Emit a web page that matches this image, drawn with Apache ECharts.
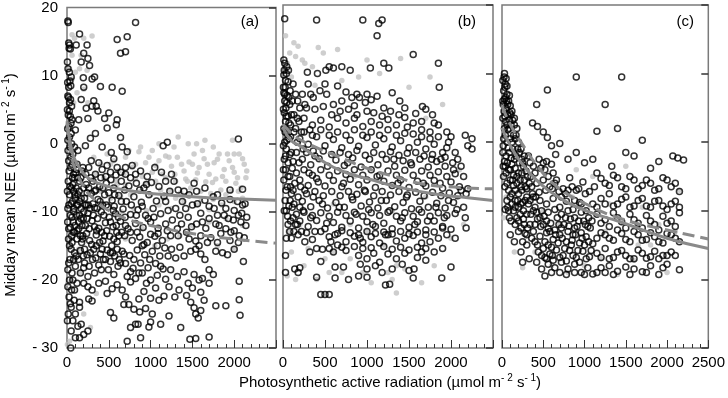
<!DOCTYPE html>
<html>
<head>
<meta charset="utf-8">
<script src="https://cdn.jsdelivr.net/npm/echarts@6/dist/echarts.min.js"></script>
<style>
  html, body { margin: 0; padding: 0; background: #fff; }
  #chart { width: 728px; height: 398px; }
</style>
</head>
<body>
<div id="chart"></div>
<script>
// x: PAR (umol m-2 s-1), y: midday mean NEE (umol m-2 s-1)
var panelLabels = ['(a)', '(b)', '(c)'];

// ---- panel (a) ----
var aGray = [
  [320,-2],[400,-3],[480,-1.5],[560,-2.5],[620,-4],[700,-2],[780,-3.5],[860,-1.2],[940,-2.8],[1020,-4.2],
  [1100,-2.5],[1180,-1.8],[1250,-3.3],[1320,-2],[1400,-4],[1460,-2.7],[1520,-1.5],[1580,-3.5],[1640,-2.2],[1700,-4.5],
  [1760,-2.8],[1820,-1.5],[1880,-3.8],[1940,-2.5],[2000,-4.2],[2060,-1.5],[2120,-3],[2140,-5],[2080,-6.5],[2020,-5.8],
  [1960,-7],[1900,-5.5],[1840,-6.8],[1780,-5.2],[1720,-7.3],[1660,-5.6],[1600,-7],[1540,-5.3],[1480,-6.5],[1420,-5.2],
  [1360,-7.2],[1300,-5.5],[1240,-7],[1180,-5],[1120,-6.8],[1060,-5.5],[1000,-7.5],[940,-5.8],[880,-7],[820,-5.2],
  [760,-7.5],[700,-6],[640,-7.8],[580,-5.5],[520,-8],[460,-6.5],[400,-7],[2100,-8],[2000,-8.5],[1850,-9],
  [1700,-9.7],[1550,-9],[1400,-8.5],[1250,-9.5],[1100,-9],[950,-9.8],[800,-9.5],[650,-10],[1650,0.5],[1450,0],
  [1330,1],[1980,0.5],[60,16],[90,15.5],[170,13],[300,15.8],[240,10.8],[150,11],[100,10.5],[60,9.5],
  [200,8],[80,6],[40,-1],[20,-6],[50,-14],[20,-15],[140,-15.5],[50,-20],[10,-20.5],[30,-29],
  [5,-29.5],[280,-27],[200,-25],[350,-22],[150,-19],[1200,-14],[1500,-12],[1800,-15],[2000,-15.5],[1900,-11],
  [1700,-11.5],[1350,-13.5],[900,-12.5],[700,-14],[500,-16],[1050,-15],[2100,-12]
];
var aGray2 = [
  [350,-4.5],[440,-5],[520,-3],[600,-6],[680,-4.5],[740,-1],[820,-3],[900,-4.8],[980,-2],[1060,-3.2],
  [1140,-4.5],[1220,-2],[1290,-4.5],[1370,-3],[1440,-5.5],[1500,-3],[1560,-4.3],[1620,-1],[1680,-3],[1740,-5.7],
  [1800,-2.3],[1860,-4.8],[1920,-1.5],[1980,-3.5],[2040,-5],[2100,-2.2],[2150,-4],[1020,-1],[1280,-0.5],[1750,-0.5],
  [1550,0],[880,-0.5],[1100,0],[2000,-1.5],[1300,-8],[1600,-8.5],[1900,-7.5],[1150,-8],[1450,-7.5],[1750,-8.2],
  [2050,-7],[60,13],[120,7.5],[250,6],[30,11],[200,15.5]
];
var aOpen = [
  [10,18],[15,17.8],[20,14.8],[30,14.5],[25,14],[40,13.9],[50,9.8],[35,9.2],[45,8.5],[20,8.3],
  [10,7],[30,6],[55,5.5],[15,4.2],[40,4],[60,3.5],[25,2.5],[50,1.5],[10,0.5],[35,-0.5],
  [70,-1.5],[20,-2.5],[45,-3.5],[80,-4.5],[15,-5.5],[55,-6.5],[30,-7.5],[65,-8.5],[10,-9.5],[40,-10.5],
  [75,-11.5],[20,-12.5],[55,-13.5],[30,-15],[90,-16],[20,-17.5],[60,-19],[10,-21],[40,-23.5],[15,-25],
  [70,-26],[100,-28.5],[50,-27.5],
  [150,16.1],[110,14.5],[240,14.5],[200,13.3],[250,12.5],[170,12],[270,11.5],[195,9.7],[330,9.8],[300,9.5],
  [200,8.3],[400,8.4],[170,6.5],[320,6.3],[300,5.5],[230,5.2],[350,5.5],[370,4.8],[500,4.5],[600,15.3],
  [640,13.3],[720,15.7],[700,13.5],[820,17.8],[540,8.3],[660,7.7],[140,3.5],[250,3.7],[450,3.7],[600,3.5],
  [590,2.8],[480,2.3],[340,1.5],[280,0.8],[640,0.9],[220,-0.3],[420,-0.5],[660,-0.5],[720,-1.2],[530,-1.3],
  [1150,-0.3],[1200,0.2],[2050,0.7],
  [120,-3],[180,-4],[260,-3.5],[340,-4.5],[420,-3.8],[520,-4.2],[600,-3.5],[700,-4.5],[780,-3.2],[880,-4],
  [960,-4.8],[1050,-3.5],[1130,-4.2],[150,-5.5],[230,-6],[310,-5.5],[390,-6.3],[470,-5.8],[560,-6.5],[650,-5.5],
  [740,-6.2],[830,-5.8],[920,-6.5],[1010,-5.7],[1100,-6.3],[1180,-5.5],[130,-7.5],[210,-8],[290,-7.3],[370,-8.2],
  [450,-7.5],[540,-8.3],[620,-7.6],[710,-8.5],[800,-7.8],[890,-8.6],[980,-7.5],[1070,-8.4],[1160,-7.7],[170,-9.5],
  [250,-10.2],[330,-9.4],[410,-10],[490,-9.3],[580,-10.3],[670,-9.6],[760,-10.4],[850,-9.7],[940,-10.5],[1030,-9.5],
  [1120,-10.3],[1210,-9.8],[140,-11.5],[220,-12],[300,-11.3],[380,-12.4],[460,-11.6],[550,-12.2],[640,-11.4],[730,-12.5],
  [820,-11.7],[910,-12.3],[1000,-11.5],[1090,-12.4],[1180,-11.8],[190,-13.5],[270,-14.2],[350,-13.4],[430,-14.3],[510,-13.6],
  [600,-14.4],[690,-13.5],[780,-14.2],[870,-13.7],[960,-14.5],[1050,-13.6],[1140,-14.2],[160,-15.7],[240,-16.3],[320,-15.5],
  [400,-16.2],[480,-15.6],[570,-16.5],[660,-15.8],[750,-16.4],[840,-15.6],[930,-16.3],[1020,-15.8],[1110,-16.5],[210,-17.5],
  [380,-17.8],[520,-17.3],[610,-18],[700,-17.6],[790,-18.3],[880,-17.5],[970,-18.2],[1060,-17.6],[1150,-18.4],[200,-18.2],
  [560,-19.2],[720,-19.5],[820,-19.8],[900,-19],[1000,-20],[1080,-19.3],[1180,-19.9],
  [1250,-4.5],[1280,-5.5],[1330,-6.8],[1380,-8.5],[1420,-9.5],[1460,-7.5],[1520,-5.8],[1560,-8.8],[1600,-10.2],[1650,-8.3],
  [1700,-9.2],[1750,-7.8],[1800,-10.5],[1850,-8.7],[1900,-9.5],[1950,-8.2],[2000,-9.8],[2050,-10.5],[2100,-9],[2130,-8.8],
  [2080,-11.5],[2150,-10.8],[1260,-11.2],[1320,-12.5],[1370,-11.8],[1430,-13],[1490,-12.2],[1540,-14.3],[1600,-13.5],[1660,-12.4],
  [1720,-13.8],[1780,-11.8],[1840,-13.2],[1900,-12.5],[1950,-14.2],[2000,-12.8],[2060,-13.5],[2120,-13.8],[2110,-17.3],[1250,-15.5],
  [1300,-16.8],[1350,-15.2],[1400,-16.5],[1480,-15.8],[1540,-15.5],[1600,-16.2],[1650,-17],[1700,-18.5],[1780,-15.8],[1860,-16],
  [1920,-16.3],[2050,-14.5],[1240,-18.5],[1320,-19.5],[1400,-18.8],[1450,-20.5],[1520,-19.2],[1580,-20],[1620,-19.8],[1750,-19.2],
  [120,-20.5],[250,-19.5],[300,-21.5],[380,-20.5],[460,-20.2],[480,-22],[540,-21.3],[600,-20.7],[660,-21.5],[700,-22.5],
  [760,-20.3],[860,-22.8],[920,-21.7],[1000,-22.7],[1060,-21.2],[1100,-23],[1160,-22.4],[1220,-21],[1290,-22.5],[1340,-21.5],
  [1430,-22.3],[1500,-21.2],[1600,-21.8],[1700,-20.5],[1780,-23.8],[1900,-23.8],[2060,-20.2],[2060,-22.9],[2070,-25.2],[150,-24],
  [100,-25],[260,-22.8],[300,-23.1],[150,-23.3],[520,-24.8],[560,-25.6],[680,-23.6],[740,-23.6],[800,-24.3],[870,-24.7],
  [940,-24.2],[1020,-25],[1120,-26.5],[1220,-25.3],[1360,-27],[1480,-23.3],[1520,-24.1],[1540,-25],[1570,-25.6],[1600,-24.5],
  [1640,-23],[130,-26.8],[170,-26.5],[250,-27.5],[150,-28.5],[200,-28],[720,-29],[760,-27],[820,-26.5],[880,-28.5],
  [850,-26.5],[980,-26.9],[1000,-26.2],[1470,-28.7],[1540,-28.6],[1700,-28.4],
  [60,-3],[90,-5],[110,-6.5],[130,-9],[150,-10.5],[180,-12],[200,-6.5],[230,-9],[100,-8],[80,-10],
  [90,-13],[120,-14],[100,-18],[70,-20],[160,-19],[60,-14.5],[110,-16.5],[130,-1],[90,-0.5],[100,2],
  [110,-3.8],[80,-7]
];
var aOpen2 = [
  [5,12],[12,11],[28,10.5],[8,9],[18,6.8],[42,6.5],[5,5],[28,4.8],[48,3],[8,2.2],
  [30,1],[55,0],[12,-1],[45,-2],[25,-4],[65,-5],[5,-7],[35,-6.3],[50,-8.8],[22,-9],
  [85,-9.5],[60,-10.8],[8,-11.5],[40,-12.3],[95,-12],[75,-13],[18,-14],[50,-15.5],[80,-17],[35,-17],
  [10,-18.5],[55,-21.5],[25,-22.5],[85,-23],[5,-26],[45,-30],
  [105,-4.3],[165,-5],[225,-4.5],[285,-5],[345,-6.8],[405,-5],[465,-4.8],[525,-5.3],[585,-4.6],[645,-4.2],
  [690,-6.8],[115,-10.5],[195,-11],[255,-9],[315,-10.5],[365,-11],[425,-9],[505,-10.8],[565,-9.2],[615,-10.8],
  [695,-10.8],[120,-12.8],[175,-14.5],[235,-13.2],[295,-14.8],[355,-12.8],[415,-13],[475,-12.8],[535,-15],[595,-13],
  [655,-13],[135,-17],[195,-16.5],[265,-18],[305,-17],[345,-16.8],[435,-17],[495,-18.5],[545,-16],[625,-17],
  [680,-16.2],[150,-8.5],[240,-7.2],[310,-8.8],[430,-6.5],[500,-7.2],[570,-7.5],[650,-8.5],[190,-3.5],[290,-2.5],
  [380,-2.8],[480,-3.2],[560,-2.2],[700,-3.5],[760,-5],[820,-4.5],[870,-6.8],[950,-6],[770,-9],[830,-10.5],
  [900,-9.2],[970,-11],[1040,-10.8],[760,-13],[840,-13],[920,-14.8],[1000,-13.3],[1090,-13.2],[800,-17],[900,-15],
  [990,-17],[1080,-15],[1120,-18],[760,-18.8],[860,-19],[950,-20.5],[1180,-8.5],[1230,-7],[1200,-12.8],[1240,-13.5],
  [1210,-16.5],[1170,-15.3],[1300,-9.5],[1350,-10.5],[1450,-10.8],[1500,-9],[1550,-11.8],[1620,-11.5],[1700,-11],[1760,-9.5],
  [1820,-12],[1880,-10.5],[1930,-11],[1990,-11.2],[2040,-8.5],[2090,-10.2],[2140,-12],[1330,-13.5],[1460,-14],[1580,-15],
  [1680,-14.5],[1800,-14.5],[1960,-13],[2000,-15.5],[1400,-7],[1550,-7],[1650,-6.5],[1800,-7.5],[1950,-6.8],[2100,-6.7]
];
var aOpen3 = [
  [70,-6],[95,-7.5],[125,-5],[145,-7],[170,-8],[115,-9],[140,-12.5],[165,-11],[200,-10],[215,-9],
  [185,-14],[210,-15.5],[160,-13.5],[240,-11],[265,-12.5],[275,-9.5],[260,-6.5],[330,-7],[360,-9.5],[395,-8.5],
  [440,-10.5],[470,-9],[520,-11.5],[555,-9.8],[590,-12],[620,-13.5],[700,-12],[450,-13.5],[390,-14.5],[330,-12.2],
  [280,-16],[350,-15],[420,-15.5],[460,-17],[520,-16],[600,-15.5],[640,-17.5],[560,-14],[410,-18.5],[330,-19],
  [250,-21],[200,-20.5],[90,-21.5],[50,-24],[30,-20]
];
var aFitSolid = [[0,3.3],[50,-0.5],[100,-2.5],[200,-4.4],[300,-5.4],[500,-6.3],[750,-6.9],[1000,-7.3],[1500,-7.8],[2000,-8.1],[2500,-8.3]];
var aFitDash = [[0,3],[50,-1.5],[100,-3.8],[200,-6.3],[300,-7.9],[500,-9.8],[750,-11.2],[1000,-12],[1500,-13.2],[2000,-14],[2500,-14.6]];

// ---- panel (b) ----
var bGray = [
  [30,15.5],[130,14.5],[230,12],[480,13],[350,11],[420,13.8],[650,13.5],[260,11.5],[180,14],[80,13],
  [50,11.5],[100,9.5],[150,12.5],[1000,12],[1150,10],[1400,12.2],[700,9],[900,9.5],[1750,9.5],[1500,8],
  [1700,3.5],[1900,5.5],[380,8.3],[200,3.5],[100,-16],[50,-19.5],[150,-20],[60,-13],[200,-12],[300,-15.5],
  [500,-17],[600,-16],[700,-19],[800,-17],[950,-19],[1050,-20.5],[1250,-19],[1350,-18],[1450,-18.5],[1650,-20.5],
  [1800,-18],[2000,-14],[2150,-12],[1500,-13],[1000,-13],[1200,-15],[800,-12],[1700,-8],[1300,-10],[850,-5],
  [600,-9],[2100,-4],[1350,-22],[1300,-20],[250,-18],[400,-20],[550,-19]
];
var bOpen = [
  [20,18],[15,10.5],[10,9.8],[40,10],[30,9],[60,8.8],[25,8],[10,7.2],[50,6.8],[20,6],
  [80,5.5],[35,5],[15,4.3],[60,3.8],[30,3],[90,2.5],[10,2],[50,1.2],[70,0.5],[20,0],
  [40,-1],[100,-1.5],[15,-2.5],[60,-3],[30,-4],[80,-5],[10,-5.5],[50,-6.5],[100,-7.5],[25,-8.5],
  [70,-9.3],[40,-10],[120,-11],[60,-12],[130,-13],[100,-14],[140,-18.5],[30,-19],[30,-16.5],
  [110,6],[130,4],[150,2],[170,0],[120,-2.8],[160,-4.5],[140,-6],[180,-8],[130,1.5],[170,3.5],
  [200,5],[150,7],[110,-9.5],[90,-11.5],
  [400,17.8],[950,17.8],[1140,17.3],[1180,17.8],[1120,15.5],[1550,12.8],[1850,11.5],[1860,8],[1200,11.5],[1260,10.8],
  [1040,10.8],[550,11],[510,10.5],[410,10],[290,10.2],[300,8.5],[500,8.5],[650,8.2],[600,10.8],[700,11],
  [800,10.5],[440,7.5],[330,7],[360,6.5],[520,7],[750,7.3],[880,7],[910,6.5],[820,6.5],[1000,7],
  [1120,6.7],[1300,7.2],[1390,6],[1660,5.2],[1050,6.2],[850,5.3],[600,5.5],[700,6],[1000,4.5],[1200,5],
  [1450,5],[1650,3],[1780,4],[2000,0.8],[2170,1],[2250,0.5],[2250,-1],[2200,-0.5],[1950,-0.8],[1930,-2.2],[1970,0],
  [250,3.5],[350,2.5],[450,3.2],[550,2.2],[650,3.5],[750,2.8],[850,3.5],[950,2.3],[1050,3],[1150,2.5],
  [1250,3.3],[1350,2.5],[1450,3.6],[1550,2.8],[1650,1.8],[1750,1.5],[1850,2.5],
  [200,0.5],[300,-0.3],[400,0.8],[500,-0.5],[600,0.4],[700,-0.8],[800,0.3],[900,-0.6],[1000,0.7],[1100,-0.4],
  [1200,0.5],[1300,-0.7],[1400,0.2],[1500,-0.8],[1600,0],[1700,-1],[1800,-0.3],[1900,-1.5],[2050,-1.5],
  [230,-2.5],[330,-3.3],[430,-2.4],[530,-3.5],[630,-2.6],[730,-3.4],[830,-2.3],[930,-3.6],[1030,-2.5],[1130,-3.3],
  [1230,-2.5],[1330,-3.5],[1430,-2.7],[1530,-3.3],[1630,-2.5],[1730,-3.6],[1830,-2.8],[1930,-3.5],[2030,-4],[2120,-3.5],
  [200,-5.5],[300,-6.3],[400,-5.3],[500,-6.4],[600,-5.6],[700,-6.5],[800,-5.4],[900,-6.2],[1000,-5.5],[1100,-6.6],
  [1200,-5.7],[1300,-6.3],[1400,-5.5],[1500,-6.6],[1600,-5.7],[1700,-6.4],[1800,-5.6],[1900,-6.7],[2000,-5.8],[2100,-6.5],[2200,-6.8],
  [230,-8.6],[330,-9.4],[430,-8.5],[530,-9.6],[630,-8.8],[730,-9.5],[830,-8.4],[930,-9.3],[1030,-8.7],[1130,-9.6],
  [1230,-8.5],[1330,-9.4],[1430,-8.8],[1530,-9.7],[1630,-8.6],[1730,-9.5],[1830,-8.9],[1930,-9.6],[2030,-8.8],[2150,-9.5],
  [200,-11.5],[300,-12.3],[400,-11.4],[500,-12.6],[600,-11.7],[700,-12.4],[800,-11.5],[900,-12.5],[1000,-11.6],[1100,-12.3],
  [1200,-11.8],[1300,-12.6],[1400,-11.5],[1500,-12.4],[1600,-11.6],[1700,-12.8],[1800,-11.5],[1900,-12.3],[2000,-12.7],
  [350,-14.2],[550,-13.8],[750,-14.5],[850,-13.7],[950,-14.6],[1050,-13.8],[1150,-14.7],[1250,-13.5],[1350,-14.4],[1450,-14],
  [1550,-13.6],[1650,-14.7],[1850,-14],[2050,-14],
  [400,-15.5],[600,-16],[700,-15.3],[900,-16.5],[950,-15.5],[1000,-17],[1080,-16.2],[1150,-17.5],[1250,-16.3],[1350,-17],
  [1450,-16.2],[1600,-16.8],[1700,-15.5],[1900,-15.5],[1800,-16],
  [200,-18.3],[620,-18.2],[720,-18.2],[920,-17.8],[1000,-18.5],[1100,-18],[1300,-18.5],[1420,-17.8],[1500,-18.7],[1560,-18.5],
  [1700,-17.2],[2000,-18.2],
  [450,-22.2],[500,-22.2],[550,-22.2],[400,-19.7],[1000,-19.7],[1220,-20.8],[1270,-20.7],[1550,-19.8],[1890,-19.8],[180,-19],
  [780,-20],[900,-19.5],[1180,-19],[620,-19.8],[450,-17.4],[470,-15.6],[1750,-14.5],[1900,-12.5],[2180,-12.5]
];
var bOpen2 = [
  [5,8],[20,7],[45,5.8],[70,6.5],[5,4.8],[40,3.8],[70,2.8],[100,4],[25,1.5],[60,1.5],
  [90,0.8],[5,-0.5],[45,0.3],[80,-1.8],[30,-2],[110,-3.8],[5,-4],[60,-5],[90,-6.5],[35,-7],
  [15,-10],[55,-10.8],[85,-8.5],[130,-9],[160,-10.5],[120,-7],[150,-12],[180,-13.5],[80,-13],[40,-14],
  [280,5],[380,4.8],[480,5.2],[580,4],[680,4.5],[780,4.8],[880,4],[980,5.8],[1080,4.3],[1180,3.8],
  [1280,4.5],[1380,4],[1480,2.2],[1580,4.2],[1700,4.8],[1800,2.8],
  [250,1.5],[350,1],[450,1.8],[550,1],[650,1.5],[750,1],[850,1.8],[950,1],[1050,1.5],[1150,1],
  [1250,1.8],[1350,1],[1450,1.3],[1550,1.2],[1650,0.8],[1750,0.5],[1850,0.8],[1950,1.5],
  [280,-1.5],[380,-2],[480,-1.3],[580,-1.8],[680,-1.5],[780,-1.8],[880,-1.2],[980,-1.9],[1080,-1.5],[1180,-1.8],
  [1280,-1.4],[1380,-1.9],[1480,-1.6],[1580,-1.5],[1680,-2],[1780,-1.8],[1880,-2.5],[2080,-2.5],
  [250,-4],[350,-4.8],[450,-4],[550,-4.8],[650,-4.2],[750,-4.7],[850,-4],[950,-4.8],[1050,-4],[1150,-4.8],
  [1250,-4.2],[1350,-4.8],[1450,-4.1],[1550,-4.8],[1650,-4.2],[1750,-4.8],[1850,-4.3],[1950,-5],[2050,-4.6],[2150,-5],
  [280,-7.5],[380,-7.2],[480,-7.8],[580,-7.2],[680,-7.8],[780,-7.2],[880,-7.6],[980,-7.2],[1080,-7.8],[1180,-7.2],
  [1280,-7.7],[1380,-7.2],[1480,-7.7],[1580,-7.3],[1680,-7.8],[1780,-7.3],[1880,-7.8],[1980,-7.4],[2080,-7.8],[2180,-7.5],
  [250,-10.2],[350,-10.7],[450,-10.3],[550,-10.8],[650,-10.2],[750,-10.7],[850,-10.2],[950,-10.8],[1050,-10.3],[1150,-10.7],
  [1250,-10.2],[1350,-10.8],[1450,-10.3],[1550,-10.8],[1650,-10.2],[1750,-10.8],[1850,-10.3],[1950,-10.7],[2050,-10.4],
  [280,-13.2],[450,-13],[650,-13.3],[700,-12.9],[800,-13.2],[900,-13.5],[1000,-13],[1100,-13.3],[1200,-13.1],[1300,-13.4],
  [1400,-13],[1500,-13.4],[1600,-13.1],[1700,-13.5],[1800,-13.1],[1950,-13.5],
  [550,-15.5],[650,-15],[750,-15.8],[850,-15.2],[1050,-15.4],[1200,-15.2],[1300,-15.6],[1400,-15.3],[1500,-15.7],[1600,-15.3],[1650,-16]
];
var bOpen3 = [
  [10,12],[45,11],[65,10.5],[20,11.5],[85,7.5],[120,8.5],[175,6],[230,7],[260,5.5],[190,3],
  [220,1.5],[240,-1],[160,-1.5],[190,-3],[210,-6.5],[260,-7],[240,-10],[200,-9.5],[170,-12],[220,-13],
  [260,-14.5],[320,-16],[380,-13],[330,-11],[360,-8],[310,-4.5],[360,-1.3],[320,1.8],[420,-5.8],[470,-9],
  [520,-11.8],[570,-14.5],[620,-13.5],[670,-9.5],[720,-6],[770,-3],[820,-8],[870,-10.5],[920,-14],[970,-7],
  [1020,-9.8],[1070,-12],[1120,-5],[1170,-8.5],[1220,-13.5],[1270,-10],[1320,-2.5],[1370,-6],[1420,-11],[1470,-8],
  [1520,-3],[1570,-12],[1620,-9.8],[1670,-6],[1720,-11.5],[1770,-2.5],[1820,-9.5],[1870,-6],[1920,-11],[1970,-8.5],
  [2020,-3],[2070,-9.8],[2120,-7],[2170,-11]
];
var bFitSolid = [[0,2.1],[100,0.2],[200,-0.5],[437,-2.5],[700,-4.2],[1032,-5.4],[1400,-6.6],[1826,-7.6],[2200,-8.1],[2500,-8.5]];
var bFitDash = [[0,2.6],[100,1.3],[200,0.4],[400,-0.8],[636,-2],[1000,-3.8],[1300,-4.9],[1667,-6.1],[2100,-6.6],[2500,-6.8]];

// ---- panel (c) ----
var cGray = [
  [0,-5],[20,-11],[150,-16],[250,-18.3],[400,-16],[600,-18],[800,-19],[1000,-18],[1200,-17],[1400,-19.3],
  [1600,-17.2],[1800,-15],[2000,-19],[2100,-13],[1900,-12],[1700,-9.5],[1300,-9],[900,-4],[700,-12],[500,-10],
  [1100,-5],[1500,-3.5],[2150,-7],[50,-8],[300,-7],[850,-8],[1250,-13],[1650,-15]
];
var cOpen = [
  [30,10],[50,9.3],[40,8.5],[20,7.5],[60,7],[30,6.3],[80,6],[15,5.5],[50,5],[100,5.3],
  [25,4.5],[70,4],[120,4.5],[10,3.5],[45,3],[90,3.3],[150,3.5],[30,2],[70,1.8],[110,2.5],
  [180,2],[20,0.5],[60,0],[100,0.5],[140,1],[200,0],[10,-1.5],[50,-2],[90,-1.5],[130,-1],
  [170,-2],[230,-1],[40,-3.5],[80,-4],[120,-3.2],[160,-3.8],[200,-4.5],[260,-3.5],[20,-5],[60,-6],
  [100,-5.5],[140,-6.3],[180,-6],[220,-5.5],[280,-6.5],[160,-8.5],[120,-9],[80,-10],[200,-9.5],[250,-8.8],
  [300,-8],[90,-11],[180,-11],[230,-12.5],[300,-10.5],
  [900,9.5],[1450,9.5],[550,7.6],[420,5.5],[370,2.8],[430,2.3],[500,1.5],[550,0.7],[1250,5.5],[1150,1.6],
  [1400,2],[1700,0.3],[1500,-1.5],[2070,-2],[2130,-2.3],[2200,-2.6],[1900,-2.8],[1800,-3.8],[1100,-2.5],[900,-1.5],
  [800,-2.5],[700,-0.2],[600,-0.5],[650,-1.8],[1000,-3],[1600,-2],[1330,-3.5],
  [320,-2],[380,-3.5],[450,-2.5],[520,-4],[600,-3.2],[350,-5],[420,-6],[500,-5.5],[580,-6.5],[660,-5.5],
  [740,-6.8],[820,-5.2],[900,-7],[980,-5.8],[1060,-7.2],[380,-8],[460,-8.5],[540,-9],[620,-8.2],[700,-9.5],
  [780,-8.6],[860,-9.8],[940,-8.8],[1020,-10],[1100,-9],[350,-10.5],[430,-11.2],[510,-10.8],[590,-11.8],[670,-11],
  [750,-12],[830,-11.2],[910,-12.3],[990,-11.5],[1070,-12.5],[380,-13],[460,-13.7],[540,-13.2],[620,-14.2],[700,-13.5],
  [780,-14.5],[860,-13.5],[940,-14.7],[1020,-13.8],[1100,-14.8],[500,-15.5],[580,-16.3],[660,-15.7],[740,-16.5],[820,-15.8],
  [900,-16.8],[980,-15.9],[1060,-16.7],[560,-17.8],[640,-18.3],[720,-17.5],[800,-18.5],[880,-17.8],[960,-19],[1040,-18.3],
  [700,-19],[300,-15],[330,-17],[420,-17.5],[480,-18.5],[250,-14.5],[280,-13.3],
  [1150,-4.5],[1250,-6],[1350,-4.8],[1450,-6.5],[1550,-5],[1650,-6.8],[1750,-5.5],[1850,-7],[1950,-5.2],[2050,-6.5],
  [2150,-7.2],[1200,-8.2],[1300,-7.5],[1400,-9],[1500,-8],[1600,-9.3],[1700,-8.2],[1800,-9.5],[1900,-8.5],[2000,-9.8],
  [2100,-8.6],[1150,-10.5],[1250,-11.3],[1350,-10.3],[1450,-11.6],[1550,-10.5],[1650,-11.8],[1750,-10.7],[1850,-12],[1950,-10.8],
  [2050,-11.5],[2150,-10.3],[1200,-13.2],[1300,-14],[1400,-12.8],[1500,-14.2],[1600,-13],[1700,-14.3],[1800,-13.2],[1900,-14.5],
  [2000,-13.3],[2100,-14],[1150,-16.2],[1250,-15.5],[1350,-16.8],[1450,-15.8],[1550,-17],[1650,-15.7],[1750,-16.9],[1850,-15.9],
  [1950,-16.5],[2050,-16],[1200,-18.3],[1300,-18],[1400,-18.8],[1500,-18.2],[1600,-18.5],[1700,-18.9],[1800,-18],[1950,-18.3],
  [2000,-17.8],[2150,-18.6],[1100,-19.2],[1250,-19],
  [200,-13],[230,-16],[250,-17.5],[150,-14.5],[100,-13.5]
];
var cOpen2 = [
  [10,9],[35,8],[60,8.2],[10,6],[45,6.5],[70,5.5],[95,4.3],[35,3.8],[60,2.5],[130,3.2],
  [85,2],[40,1],[120,0],[160,0.5],[15,-0.5],[75,-0.8],[110,-2.3],[150,-2.5],[190,-1],[30,-2.8],
  [65,-3],[100,-4],[140,-4.8],[180,-5],[240,-4.5],[35,-6.5],[80,-7],[120,-7.5],[160,-7],[200,-7.5],
  [240,-7],[280,-8.5],[60,-8.5],[140,-10],[220,-10.5],[260,-10],[110,-11.5],[160,-12],[200,-11.5],[270,-12],
  [310,-12.5],[320,-9],[310,-5],[270,-2],[240,-2.5],[210,-3],
  [340,-3],[400,-4.5],[470,-3.8],[540,-2.8],[620,-4.5],[360,-6.5],[450,-7.3],[530,-7],[610,-6.8],[690,-7.2],
  [770,-7.5],[850,-6.5],[930,-6.8],[1010,-7.5],[400,-9.5],[480,-10],[560,-10.2],[640,-9.8],[720,-10.5],[800,-10],
  [880,-11],[960,-10.2],[1050,-11],[400,-12],[470,-12.3],[560,-12.6],[640,-12.8],[720,-12.5],[800,-13],[880,-12.5],
  [960,-13.2],[1040,-12.3],[430,-15],[520,-14.5],[600,-15.3],[680,-14.7],[760,-15.5],[840,-15],[920,-15.8],[1000,-15],
  [1080,-15.8],[540,-17],[620,-17.2],[700,-16.8],[780,-17.3],[860,-16.5],[940,-17.5],[1020,-17],[600,-19],[780,-19.3],
  [880,-19],[1000,-19.3],[520,-19.5],
  [1120,-6.5],[1200,-5.3],[1300,-6.3],[1400,-5.2],[1500,-6.8],[1600,-5.5],[1700,-6.3],[1800,-6],[1900,-6.8],[2000,-5.5],
  [2100,-6],[1150,-9.5],[1250,-9],[1350,-9.3],[1450,-8.3],[1550,-9.5],[1650,-8.5],[1750,-9.3],[1850,-8.6],[1950,-9.3],
  [2050,-9],[2150,-9.5],[1200,-11.8],[1300,-12.3],[1400,-11],[1500,-12.5],[1600,-11.3],[1700,-12.5],[1800,-11.5],[1900,-12.8],
  [2000,-11.8],[2100,-12.3],[1150,-14],[1250,-13.5],[1350,-14.3],[1450,-13.3],[1550,-14.5],[1650,-13.5],[1750,-14.2],[1850,-13.8],
  [1950,-14.7],[2050,-13.5],[2150,-14.5],[1200,-16.8],[1300,-17],[1400,-16],[1500,-16.5],[1600,-17],[1700,-16.2],[1800,-16.7],
  [1900,-17],[2000,-16.5],[2100,-16.5],[1150,-19],[1350,-19.3],[1550,-19.3],[1750,-19],[1900,-19.3]
];
var cOpen3 = [
  [25,9.5],[55,6],[90,6.8],[110,4],[150,2.5],[170,1],[210,-1.5],[250,-3],[290,-4.2],[330,-6],
  [370,-7.5],[410,-8],[230,-6.5],[270,-5.5],[300,-6.8],[340,-8.5],[380,-10],[420,-10.2],[460,-11],[500,-12],
  [540,-11.5],[580,-13],[190,-8.5],[230,-9],[260,-11.2],[300,-13.5],[340,-12],[360,-14],[400,-14.5],[440,-16],
  [480,-16.5],[520,-16.8],[560,-15],[610,-16.5],[650,-13.5],[690,-12],[730,-14],[770,-11],[810,-12.2],[850,-14.3],
  [890,-13.5],[930,-11.5],[970,-14],[1010,-12],[1050,-14.5],[1090,-11.5],[130,-5.5],[160,-9.5],[100,-8],[70,-9.5],
  [40,-9.8],[15,-3.5],[50,-4.5],[500,-3],[560,-5],[640,-6],[720,-8],[800,-7],[880,-8.5],[960,-9]
];
var cFitSolid = [[0,2.1],[100,-0.5],[258,-3.4],[450,-5.9],[657,-7.8],[1000,-9.9],[1455,-11.7],[2000,-14],[2500,-15.5]];
var cFitDash = [[0,5.3],[100,2.6],[258,-0.5],[450,-3.8],[657,-6.4],[1000,-8.9],[1455,-11.2],[2000,-12.8],[2500,-14.1]];

var grayPts = [aGray.concat(aGray2), bGray, cGray];
var openPts = [aOpen.concat(aOpen2, aOpen3), bOpen.concat(bOpen2, bOpen3), cOpen.concat(cOpen2, cOpen3)];
var fitSolid = [aFitSolid, bFitSolid, cFitSolid];
var fitDash = [aFitDash, bFitDash, cFitDash];

var FONT = '"Liberation Sans", Arial, sans-serif';
var panelLeft = [67, 283, 502];
var panelWidth = [209, 210, 209];

var grids = [], xAxes = [], yAxes = [], series = [], graphics = [];
for (var i = 0; i < 3; i++) {
  grids.push({ left: panelLeft[i], width: panelWidth[i], top: 5, height: 343,
    show: true, borderColor: '#7a7a7a', borderWidth: 1.5, backgroundColor: 'transparent' });
  xAxes.push({
    gridIndex: i, type: 'value', min: 0, max: 2500, interval: 500,
    axisLine: { show: false, onZero: false },
    axisTick: { show: true, inside: true, length: 8, lineStyle: { color: '#333' } },
    minorTick: { show: true, splitNumber: 5, length: 4, lineStyle: { color: '#333' } },
    splitLine: { show: false },
    axisLabel: { fontFamily: FONT, fontSize: 15, color: '#000', margin: 7,
      showMaxLabel: i === 2, showMinLabel: true,
      formatter: function (v) { return String(v); } }
  });
  // left axis (labels only on panel a)
  yAxes.push({
    gridIndex: i, type: 'value', min: -30, max: 20, interval: 10, position: 'left',
    axisLine: { show: false, onZero: false }, axisTick: { show: false }, splitLine: { show: false },
    axisLabel: { show: i === 0, fontFamily: FONT, fontSize: 15, color: '#000', margin: 9,
      formatter: function (v) { return v < 0 ? '- ' + Math.abs(v) : String(v); } }
  });
  // right axis for inward ticks
  yAxes.push({
    gridIndex: i, type: 'value', min: -30, max: 20, interval: 10, position: 'right',
    axisLine: { show: false, onZero: false }, splitLine: { show: false }, axisLabel: { show: false },
    axisTick: { show: true, inside: true, length: 7, lineStyle: { color: '#333', width: 1.5 } }
  });
  series.push({
    type: 'scatter', xAxisIndex: i, yAxisIndex: 2 * i, data: grayPts[i],
    symbol: 'circle', symbolSize: 5.5, itemStyle: { color: '#c2c2c2' }, silent: true, z: 2
  });
  series.push({
    type: 'scatter', xAxisIndex: i, yAxisIndex: 2 * i, data: openPts[i],
    symbol: 'circle', symbolSize: 6, large: false,
    itemStyle: { color: 'rgba(255,255,255,0)', borderColor: '#000', borderWidth: 1.5 }, silent: true, z: 3
  });
  series.push({
    type: 'line', xAxisIndex: i, yAxisIndex: 2 * i, data: fitSolid[i], smooth: true,
    showSymbol: false, lineStyle: { color: '#8a8a8a', width: 3 }, silent: true, z: 5
  });
  series.push({
    type: 'line', xAxisIndex: i, yAxisIndex: 2 * i, data: fitDash[i], smooth: true,
    showSymbol: false, lineStyle: { color: '#8a8a8a', width: 3, type: [12, 6] }, silent: true, z: 5
  });
  graphics.push({
    type: 'text', right: 728 - (panelLeft[i] + panelWidth[i]) + 17, top: 14,
    style: { text: panelLabels[i], font: '15px ' + FONT, fill: '#000' }
  });
}

var supRich = {
  n: { fontFamily: FONT, fontSize: 15, lineHeight: 20, fill: '#000' },
  s: { fontFamily: FONT, fontSize: 10, lineHeight: 20, verticalAlign: 'top', fill: '#000' }
};
graphics.push({
  type: 'text', x: 390, y: 383,
  style: {
    text: '{n|Photosynthetic active radiation (µmol m}{s|- 2}{n| s}{s|- 1}{n|)}',
    rich: supRich, align: 'center', verticalAlign: 'middle'
  }
});
graphics.push({
  type: 'text', x: 11, y: 185, rotation: Math.PI / 2,
  style: {
    text: '{n|Midday mean NEE (µmol m}{s|- 2}{n| s}{s|- 1}{n|)}',
    rich: supRich, align: 'center', verticalAlign: 'middle'
  }
});

var chart = echarts.init(document.getElementById('chart'), null, { renderer: 'canvas' });
chart.setOption({
  animation: false,
  backgroundColor: '#fff',
  grid: grids,
  xAxis: xAxes,
  yAxis: yAxes,
  series: series,
  graphic: graphics
});
</script>
</body>
</html>
